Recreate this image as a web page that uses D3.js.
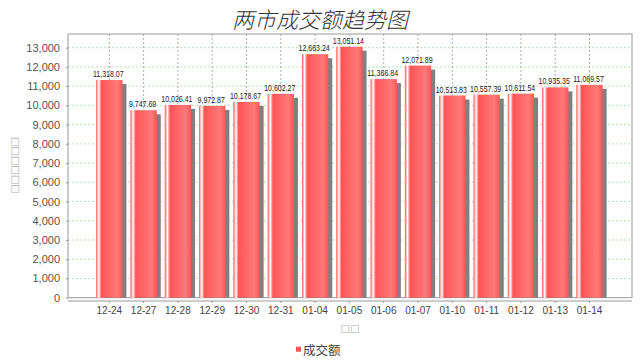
<!DOCTYPE html>
<html>
<head>
<meta charset="utf-8">
<script src="https://cdn.jsdelivr.net/npm/d3@7"></script>
<style>
  body { margin: 0; background: #fff; }
  svg { display: block; }
</style>
</head>
<body>
<svg id="chart" width="640" height="360"></svg>
<script>
// data
const dates = ['12-24', '12-27', '12-28', '12-29', '12-30', '12-31', '01-04', '01-05',
               '01-06', '01-07', '01-10', '01-11', '01-12', '01-13', '01-14'];
const amounts = [11318.07, 9747.69, 10026.41, 9972.87, 10178.67, 10602.27, 12663.24, 13051.14,
                 11366.84, 12071.89, 10513.83, 10557.39, 10611.54, 10935.35, 11069.57];
const yTicks = d3.range(0, 13001, 1000);
const yMax = 13712;

const title = '两市成交额趋势图';
const seriesName = '成交额';
// axis titles came out as missing-glyph boxes in the original
const yTitle = '□□□□□□';
const xTitle = '□□';

const plot = { left: 68, right: 632, top: 34, bottom: 297.7 };
const barColor = '#ff5555';
const barBright = '#ff7979';

const svg = d3.select('#chart');

const x = d3.scaleBand()
    .domain(dates)
    .range([92.15, 606.65])
    .paddingInner(0.233)
    .paddingOuter(0.1165);

const y = d3.scaleLinear()
    .domain([0, yMax])
    .range([plot.bottom, plot.top]);

// gradient like JFreeChart's GradientBarPainter
const grad = svg.append('defs').append('linearGradient')
    .attr('id', 'barGrad')
    .attr('x1', '0%').attr('x2', '100%')
    .attr('y1', '0%').attr('y2', '0%');
[[0, barColor], [10, '#ffffff'], [20, barColor], [80, barBright], [100, barColor]].forEach(s => {
    grad.append('stop').attr('offset', s[0] + '%').attr('stop-color', s[1]);
});

// title
svg.append('text')
    .attr('x', 320)
    .attr('y', 28)
    .attr('text-anchor', 'middle')
    .style('font-family', '"Noto Sans CJK SC", sans-serif')
    .style('font-size', '22px')
    .style('font-weight', 300)
    .style('font-style', 'italic')
    .style('fill', '#333')
    .text(title);

// plot background
svg.append('rect')
    .attr('x', plot.left).attr('y', plot.top)
    .attr('width', plot.right - plot.left)
    .attr('height', plot.bottom - plot.top)
    .attr('fill', '#fff');

// horizontal gridlines
svg.append('g').selectAll('line')
    .data(yTicks.filter(d => d > 0))
    .join('line')
    .attr('x1', plot.left).attr('x2', plot.right)
    .attr('y1', d => y(d)).attr('y2', d => y(d))
    .attr('stroke', '#9de09d')
    .attr('stroke-width', 0.8)
    .attr('stroke-dasharray', '2,2');

// vertical gridlines at category centres
svg.append('g').selectAll('line')
    .data(dates)
    .join('line')
    .attr('x1', d => x(d) + x.bandwidth() / 2)
    .attr('x2', d => x(d) + x.bandwidth() / 2)
    .attr('y1', plot.top).attr('y2', plot.bottom)
    .attr('stroke', '#999')
    .attr('stroke-width', 0.8)
    .attr('stroke-dasharray', '2,2');

// plot outline
svg.append('rect')
    .attr('x', plot.left).attr('y', plot.top)
    .attr('width', plot.right - plot.left)
    .attr('height', plot.bottom - plot.top)
    .attr('fill', 'none')
    .attr('stroke', '#999')
    .attr('stroke-width', 1);

// shadows
svg.append('g').selectAll('rect')
    .data(amounts)
    .join('rect')
    .attr('x', (d, i) => x(dates[i]) + 4)
    .attr('y', d => y(d) + 4)
    .attr('width', x.bandwidth())
    .attr('height', d => y(0) - y(d) - 4)
    .attr('fill', '#808080');

// bars
svg.append('g').selectAll('rect')
    .data(amounts)
    .join('rect')
    .attr('x', (d, i) => x(dates[i]))
    .attr('y', d => y(d))
    .attr('width', x.bandwidth())
    .attr('height', d => y(0) - y(d))
    .attr('fill', 'url(#barGrad)');

// value labels
const fmt = d3.format(',.2f');
svg.append('g').selectAll('text')
    .data(amounts)
    .join('text')
    .attr('transform', (d, i) => `translate(${x(dates[i]) + x.bandwidth() / 2 - 1},${y(d) - 3}) scale(0.74,1)`)
    .attr('text-anchor', 'middle')
    .style('font-family', '"Liberation Sans", sans-serif')
    .style('font-size', '9.5px')
    .style('fill', '#222')
    .text(d => fmt(d));

// y axis
const yAxis = svg.append('g')
    .attr('transform', `translate(${plot.left},0)`)
    .call(d3.axisLeft(y).tickValues(yTicks).tickFormat(d3.format(',')).tickSize(2).tickPadding(6));
yAxis.select('.domain').remove();
yAxis.selectAll('line').attr('stroke', '#999');
yAxis.selectAll('text')
    .style('font-family', '"Liberation Sans", sans-serif')
    .style('font-size', '11px')
    .style('fill', '#555');

// x axis, offset a little below the plot
const xAxis = svg.append('g')
    .attr('transform', `translate(0,301)`)
    .call(d3.axisBottom(x).tickSize(2).tickPadding(4).tickSizeOuter(0));
xAxis.select('.domain')
    .attr('d', `M${plot.left},0H${plot.right}`)
    .attr('stroke', '#999');
xAxis.selectAll('line').attr('stroke', '#999');
xAxis.selectAll('text')
    .style('font-family', '"Liberation Sans", sans-serif')
    .style('font-size', '10px')
    .style('fill', '#444');

// axis titles
svg.append('text')
    .attr('transform', 'translate(18,165.5) rotate(-90)')
    .attr('text-anchor', 'middle')
    .style('font-family', '"DejaVu Sans", sans-serif')
    .style('font-size', '10px')
    .style('fill', '#aaa')
    .text(yTitle);

svg.append('text')
    .attr('x', (plot.left + plot.right) / 2)
    .attr('y', 332)
    .attr('text-anchor', 'middle')
    .style('font-family', '"DejaVu Sans", sans-serif')
    .style('font-size', '10px')
    .style('fill', '#aaa')
    .text(xTitle);

// legend
svg.append('rect')
    .attr('x', 296).attr('y', 346.7)
    .attr('width', 5).attr('height', 5)
    .attr('fill', barColor);
svg.append('text')
    .attr('x', 303)
    .attr('y', 355)
    .style('font-family', '"Noto Sans CJK SC", sans-serif')
    .style('font-size', '12.5px')
    .style('fill', '#444')
    .text(seriesName);
</script>
</body>
</html>
